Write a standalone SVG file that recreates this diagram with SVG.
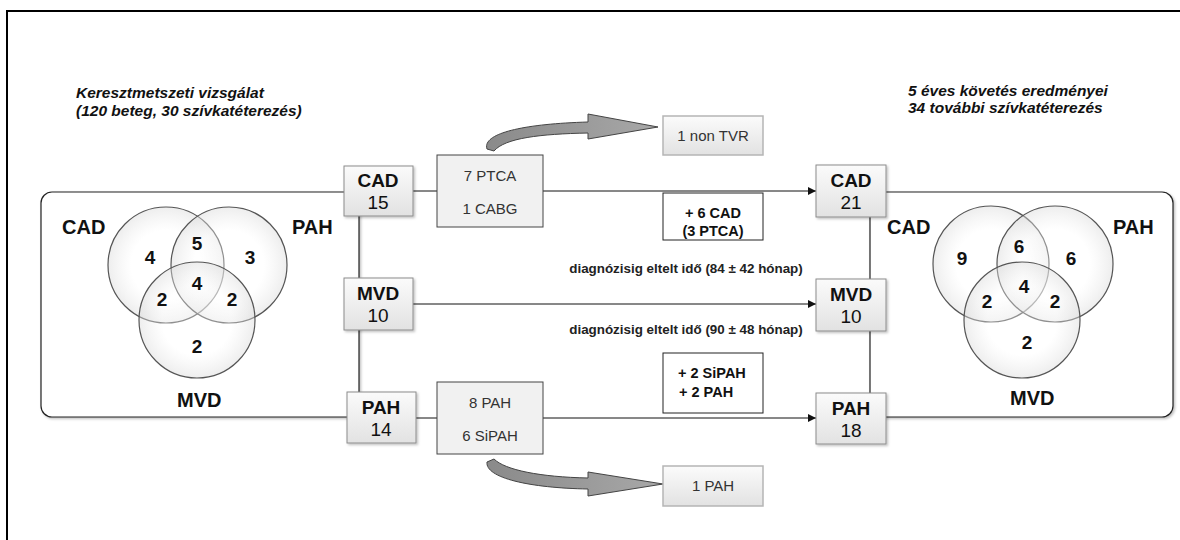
<svg xmlns="http://www.w3.org/2000/svg" width="1180" height="540" viewBox="0 0 1180 540">
<defs>
<linearGradient id="boxg" x1="0" y1="0" x2="0" y2="1">
<stop offset="0" stop-color="#fbfbfb"/><stop offset="1" stop-color="#e2e2e2"/>
</linearGradient>
<linearGradient id="arrg" x1="0" y1="0" x2="1" y2="0">
<stop offset="0" stop-color="#8a8a8a"/><stop offset="1" stop-color="#a8a8a8"/>
</linearGradient>
<radialGradient id="circg" cx="0.5" cy="0.5" r="0.5">
<stop offset="0.6" stop-color="#ffffff" stop-opacity="0.35"/><stop offset="1" stop-color="#d8d8d8" stop-opacity="0.45"/>
</radialGradient>
<filter id="sh" x="-10%" y="-10%" width="130%" height="130%">
<feDropShadow dx="1.5" dy="1.5" stdDeviation="1" flood-color="#000" flood-opacity="0.25"/>
</filter>
<marker id="ah" viewBox="0 0 10 10" refX="10" refY="5" markerWidth="10" markerHeight="8" markerUnits="userSpaceOnUse" orient="auto">
<path d="M0,0 L10,5 L0,10 Z" fill="#111"/>
</marker>
</defs>
<style>
text{font-family:"Liberation Sans",Arial,sans-serif;fill:#111}
.title{font-size:15.5px;font-weight:bold;font-style:italic}
.lbl{font-size:20px;font-weight:bold}
.num{font-size:19px;font-weight:bold;text-anchor:middle}
.bt{font-size:19px;font-weight:bold;text-anchor:middle}
.bn{font-size:19px;text-anchor:middle}
.node{fill:url(#boxg);stroke:#8c8c8c;stroke-width:1}
.tr{fill:#f1f1f1;stroke:#444;stroke-width:1}
.tt{font-size:15px;text-anchor:middle;fill:#333}
.ob{fill:url(#boxg);stroke:#b5b5b5;stroke-width:1.5}
.wb{fill:#fff;stroke:#222;stroke-width:1}
.wt{font-size:14.5px;font-weight:bold}
.cap{font-size:13.4px;font-weight:bold;text-anchor:middle;fill:#222}
.line{stroke:#111;stroke-width:1;fill:none}
.circ{fill:url(#circg);stroke:#555;stroke-width:1.2}
.frame{fill:#fff;stroke:#222;stroke-width:1.2}
.big{fill:url(#arrg);stroke:#444;stroke-width:1}
</style>
<rect width="1180" height="540" fill="#fff"/>
<path d="M7,540 L7,11 L1180,11" fill="none" stroke="#000" stroke-width="2"/>

<g id="titles">
<text class="title" x="76" y="98">Keresztmetszeti vizsgálat</text>
<text class="title" x="76" y="116">(120 beteg, 30 szívkatéterezés)</text>
<text class="title" x="908" y="96">5 éves követés eredményei</text>
<text class="title" x="908" y="113">34 további szívkatéterezés</text>
</g>

<g id="connectors">
<rect class="frame" x="41" y="192" width="318" height="225" rx="11" filter="url(#sh)"/>
<rect class="frame" x="870" y="192" width="303" height="225" rx="11" filter="url(#sh)"/>
<line class="line" x1="413" y1="191" x2="437" y2="191"/>
<line class="line" x1="543" y1="191" x2="816" y2="191" marker-end="url(#ah)"/>
<line class="line" x1="413" y1="304" x2="816" y2="304" marker-end="url(#ah)"/>
<line class="line" x1="416" y1="418" x2="437" y2="418"/>
<line class="line" x1="543" y1="418" x2="816" y2="418" marker-end="url(#ah)"/>
<path class="big" d="M487,149 C482,134 520,124 588,122 L588,114 L658,127 L588,139 L588,133 C540,134 505,138 494,151 Z"/>
<path class="big" d="M487,462 C485,478 530,488 588,489 L588,496 L663,484 L588,472 L588,478 C540,477 505,470 494,459 Z"/>
</g>

<g id="venn-left">
<circle class="circ" cx="166" cy="265" r="58"/>
<circle class="circ" cx="229" cy="265" r="58"/>
<circle class="circ" cx="197" cy="320" r="58"/>
<text class="lbl" x="62" y="234">CAD</text>
<text class="lbl" x="292" y="234">PAH</text>
<text class="lbl" x="177" y="407">MVD</text>
<text class="num" x="150" y="264">4</text>
<text class="num" x="197" y="250">5</text>
<text class="num" x="250" y="264">3</text>
<text class="num" x="197" y="290">4</text>
<text class="num" x="162" y="306">2</text>
<text class="num" x="232" y="306">2</text>
<text class="num" x="197" y="353">2</text>
</g>

<g id="venn-right">
<circle class="circ" cx="991" cy="264" r="58"/>
<circle class="circ" cx="1055" cy="264" r="58"/>
<circle class="circ" cx="1022" cy="320" r="58"/>
<text class="lbl" x="887" y="234">CAD</text>
<text class="lbl" x="1113" y="234">PAH</text>
<text class="lbl" x="1010" y="405">MVD</text>
<text class="num" x="962" y="265">9</text>
<text class="num" x="1019" y="253">6</text>
<text class="num" x="1071" y="265">6</text>
<text class="num" x="1024" y="293">4</text>
<text class="num" x="987" y="308">2</text>
<text class="num" x="1055" y="308">2</text>
<text class="num" x="1027" y="349">2</text>
</g>

<g id="cad15"><rect class="node" x="344" y="166" width="69" height="50" filter="url(#sh)"/><text class="bt" x="378" y="187">CAD</text><text class="bn" x="378" y="209">15</text></g>
<g id="mvd10a"><rect class="node" x="344" y="278" width="69" height="52" filter="url(#sh)"/><text class="bt" x="378" y="300">MVD</text><text class="bn" x="378" y="322">10</text></g>
<g id="pah14"><rect class="node" x="347" y="392" width="69" height="51" filter="url(#sh)"/><text class="bt" x="381" y="414">PAH</text><text class="bn" x="381" y="436">14</text></g>

<g id="cad21"><rect class="node" x="816" y="165" width="70" height="52" filter="url(#sh)"/><text class="bt" x="851" y="187">CAD</text><text class="bn" x="851" y="209">21</text></g>
<g id="mvd10b"><rect class="node" x="816" y="279" width="70" height="52" filter="url(#sh)"/><text class="bt" x="851" y="301">MVD</text><text class="bn" x="851" y="323">10</text></g>
<g id="pah18"><rect class="node" x="816" y="393" width="70" height="51" filter="url(#sh)"/><text class="bt" x="851" y="415">PAH</text><text class="bn" x="851" y="437">18</text></g>

<g id="treat-cad"><rect class="tr" x="437" y="155" width="106" height="72"/><text class="tt" x="490" y="181">7 PTCA</text><text class="tt" x="490" y="214">1 CABG</text></g>
<g id="treat-pah"><rect class="tr" x="437" y="382" width="106" height="72"/><text class="tt" x="490" y="408">8 PAH</text><text class="tt" x="490" y="441">6 SiPAH</text></g>

<g id="nontvr"><rect class="ob" x="663" y="116" width="100" height="39"/><text class="tt" x="713" y="141">1 non TVR</text></g>
<g id="pah1"><rect class="ob" x="663" y="466" width="100" height="40"/><text class="tt" x="713" y="491">1 PAH</text></g>

<g id="plus-cad"><rect class="wb" x="663" y="193" width="100" height="47"/><text class="wt" x="713" y="218" text-anchor="middle">+ 6 CAD</text><text class="wt" x="713" y="236" text-anchor="middle">(3 PTCA)</text></g>
<g id="plus-pah"><rect class="wb" x="663" y="353" width="100" height="60"/><text class="wt" x="678" y="378">+ 2 SiPAH</text><text class="wt" x="679" y="397">+ 2 PAH</text></g>

<g id="captions">
<text class="cap" x="686" y="273">diagnózisig eltelt idő (84 ± 42 hónap)</text>
<text class="cap" x="686" y="334">diagnózisig eltelt idő (90 ± 48 hónap)</text>
</g>
</svg>
